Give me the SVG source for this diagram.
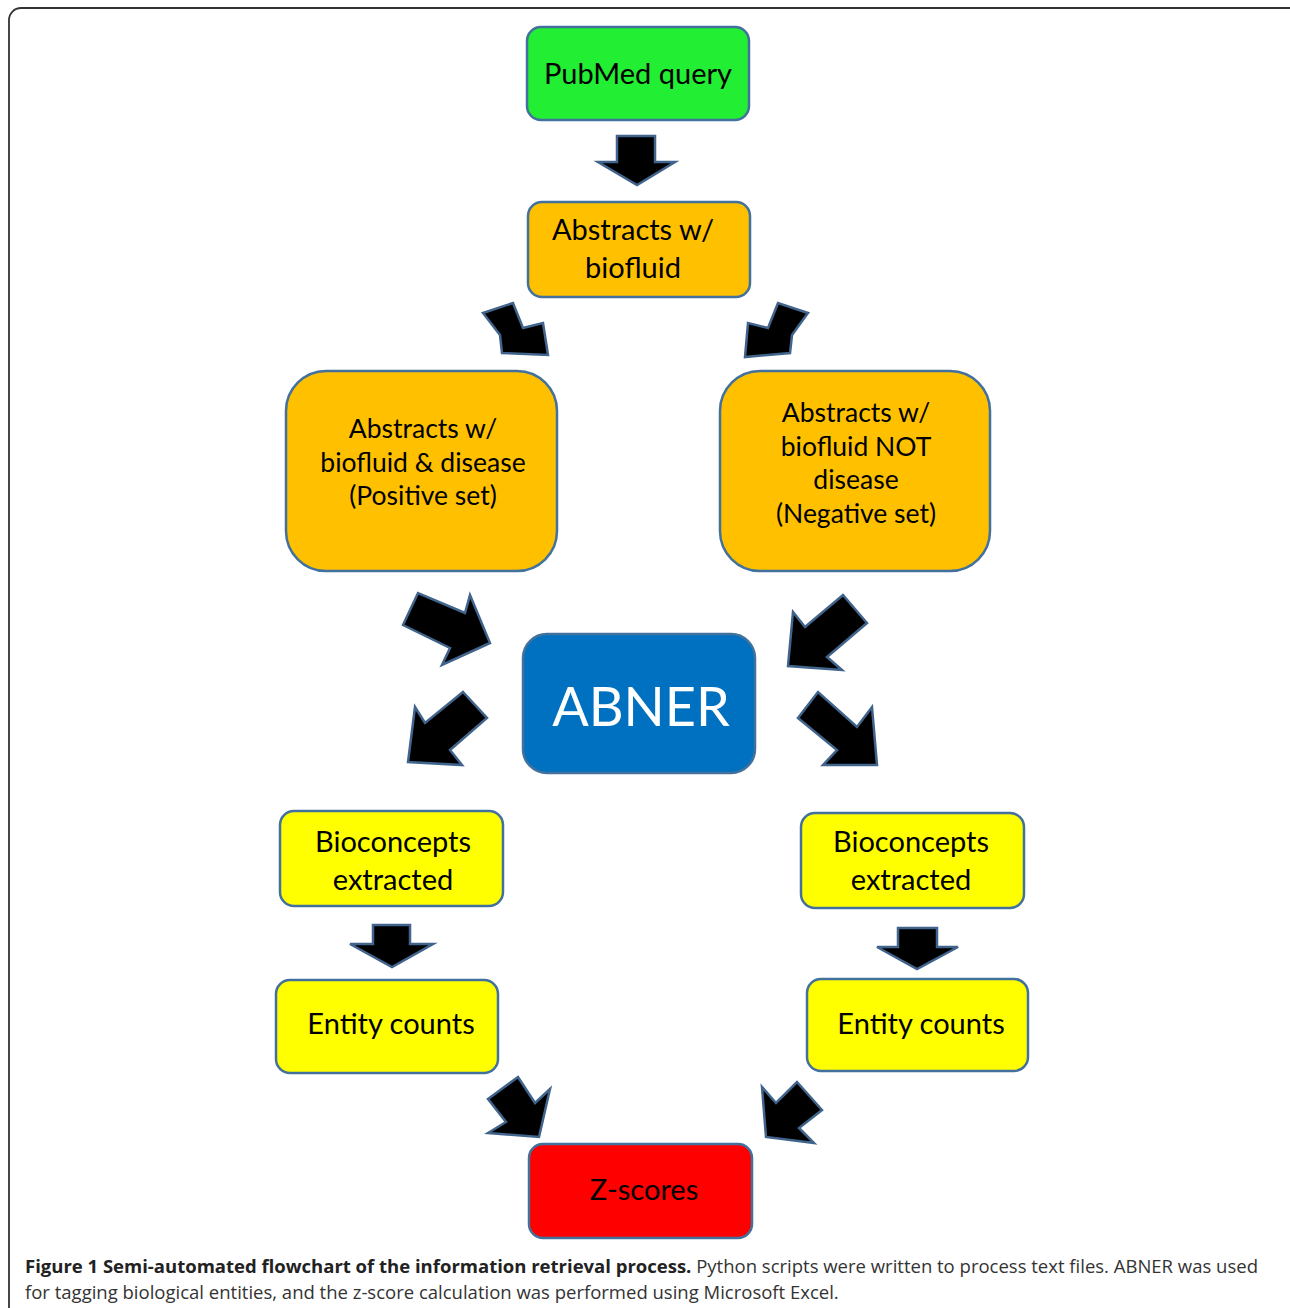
<svg xmlns="http://www.w3.org/2000/svg" width="1290" height="1308" viewBox="0 0 1290 1308">
<style>
.box{stroke:#41719C;stroke-width:2.5}
.lbl{font-family:Lato,"Open Sans",sans-serif;font-size:29px;fill:#000;text-anchor:middle}
.sm{font-size:26.5px}
.big{font-size:54px;fill:#fff}
.arr{fill:#000;stroke:#41648C;stroke-width:2.5;stroke-linejoin:miter}
.cap{font-family:"Open Sans","Liberation Sans",sans-serif;font-size:18.5px;fill:#333}
</style>
<rect width="1290" height="1308" fill="#fff"/>
<rect x="9" y="8" width="1300" height="1330" rx="12" fill="none" stroke="#333" stroke-width="1.8"/>
<g id="pubmed"><rect class="box" x="527" y="27" width="222" height="93" rx="14" fill="#22EE33"/><text class="lbl" x="638" y="84">PubMed query</text></g>
<g id="abstracts"><rect class="box" x="528" y="202" width="222" height="95" rx="14" fill="#FFC000"/><text class="lbl" x="633" y="240">Abstracts w/</text><text class="lbl" x="633" y="278">biofluid</text></g>
<g id="positive"><rect class="box" x="286" y="371" width="271" height="200" rx="40" fill="#FFC000"/><text class="lbl sm" x="423" y="438">Abstracts w/</text><text class="lbl sm" x="423" y="472">biofluid &amp; disease</text><text class="lbl sm" x="423" y="505">(Positive set)</text></g>
<g id="negative"><rect class="box" x="720" y="371" width="270" height="200" rx="40" fill="#FFC000"/><text class="lbl sm" x="856" y="422">Abstracts w/</text><text class="lbl sm" x="856" y="456">biofluid NOT</text><text class="lbl sm" x="856" y="489">disease</text><text class="lbl sm" x="856" y="523">(Negative set)</text></g>
<g id="abner"><rect class="box" x="523" y="634" width="232" height="139" rx="24" fill="#0070C0"/><text class="lbl big" x="641" y="726">ABNER</text></g>
<g id="bio-left"><rect class="box" x="280" y="811" width="223" height="95" rx="14" fill="#FFFF00"/><text class="lbl" x="393" y="852">Bioconcepts</text><text class="lbl" x="393" y="890">extracted</text></g>
<g id="bio-right"><rect class="box" x="801" y="813" width="223" height="95" rx="14" fill="#FFFF00"/><text class="lbl" x="911" y="852">Bioconcepts</text><text class="lbl" x="911" y="890">extracted</text></g>
<g id="entity-left"><rect class="box" x="276" y="980" width="222" height="93" rx="14" fill="#FFFF00"/><text class="lbl" x="391" y="1034">Entity counts</text></g>
<g id="entity-right"><rect class="box" x="807" y="979" width="221" height="92" rx="14" fill="#FFFF00"/><text class="lbl" x="921" y="1034">Entity counts</text></g>
<g id="zscores"><rect class="box" x="529" y="1144" width="223" height="94" rx="14" fill="#FF0000"/><text class="lbl" x="644" y="1200">Z-scores</text></g>
<g id="connectors">
<polygon class="arr" points="617,136 655,136 655,162 675,162 637,185 598,162 617,162"/>
<polygon class="arr" points="483,313 513,303 523,328 543,323 548,355 502,353 500,335"/>
<polygon class="arr" points="808,313 778,303 768,328 748,323 745,357 790,353 792,335"/>
<polygon class="arr" points="403,625 418,593 465,613 470,595 490,643 442,665 450,648"/>
<polygon class="arr" points="843,595 867,623 827,657 842,670 788,666 793,612 805,627"/>
<polygon class="arr" points="463,692 487,718 450,750 462,765 408,762 415,707 425,723"/>
<polygon class="arr" points="798,718 818,692 857,727 872,707 877,765 823,765 837,750"/>
<polygon class="arr" points="373,925 410,925 410,944 433,944 392,967 350,944 373,944"/>
<polygon class="arr" points="898,928 937,928 937,947 958,947 917,969 877,947 898,947"/>
<polygon class="arr" points="488,1099 518,1077 535,1103 550,1089 539,1137 488,1133 506,1122"/>
<polygon class="arr" points="797,1082 822,1110 799,1128 814,1143 766,1137 762,1087 776,1103"/>
</g>
<g id="caption">
<text class="cap" x="25" y="1273"><tspan font-weight="bold" fill="#222">Figure 1 Semi-automated flowchart of the information retrieval process.</tspan> Python scripts were written to process text files. ABNER was used</text>
<text class="cap" x="25" y="1299">for tagging biological entities, and the z-score calculation was performed using Microsoft Excel.</text>
</g>
</svg>
